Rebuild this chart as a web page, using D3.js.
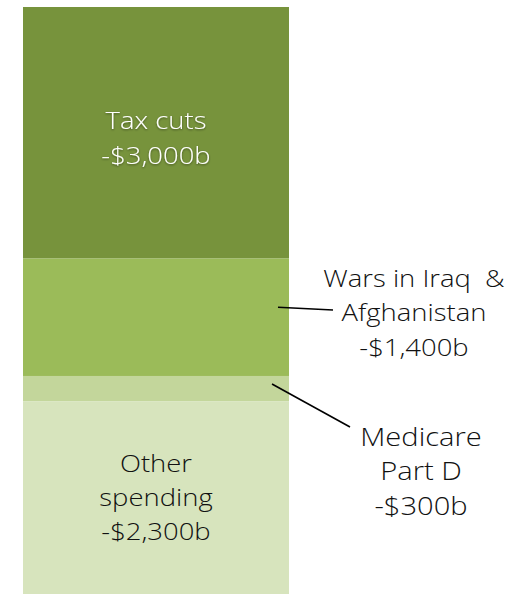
<!DOCTYPE html>
<html>
<head>
<meta charset="utf-8">
<script src="https://cdn.jsdelivr.net/npm/d3@7"></script>
<style>
  html, body { margin: 0; padding: 0; background: #fff; }
  svg { display: block; }
  text { font-family: "Open Sans", "Liberation Sans", sans-serif; font-weight: 300; white-space: pre; }
</style>
</head>
<body>
<svg id="chart" width="512" height="594"></svg>
<script>
// Budget components, stacked from top to bottom (billions of dollars)
const categories = ["Tax cuts", "Wars in Iraq & Afghanistan", "Medicare Part D", "Other spending"];
const values = [3000, 1400, 300, 2300];
const labelLines = [
  ["Tax cuts", "-$3,000b"],
  ["Wars in Iraq  &", "Afghanistan", "-$1,400b"],
  ["Medicare", "Part D", "-$300b"],
  ["Other", "spending", "-$2,300b"]
];
const colors = ["#77933c", "#9bbb59", "#c3d69b", "#d7e4bd"];

const svg = d3.select("#chart");
const barLeft = 23, barRight = 289;

const total = d3.sum(values);
const y = d3.scaleLinear().domain([0, total]).range([7, 594]);

// cumulative offsets for each segment
const starts = values.map((v, i) => d3.sum(values.slice(0, i)));
const segs = categories.map((c, i) => ({
  name: c, value: values[i], y0: starts[i], y1: starts[i] + values[i], color: colors[i], lines: labelLines[i]
}));

svg.selectAll("rect.seg")
  .data(segs)
  .join("rect")
  .attr("class", "seg")
  .attr("x", barLeft)
  .attr("width", barRight - barLeft)
  .attr("y", d => y(d.y0))
  .attr("height", d => y(d.y1) - y(d.y0))
  .attr("fill", d => d.color);

// soft shadow for white text on the dark segment
const defs = svg.append("defs");
const f = defs.append("filter").attr("id", "shadow").attr("x", "-10%").attr("y", "-10%").attr("width", "120%").attr("height", "130%");
f.append("feDropShadow").attr("dx", 0).attr("dy", 1).attr("stdDeviation", 0.8).attr("flood-color", "#000").attr("flood-opacity", 0.45);

// centred multi-line label, widened slightly for a broad display face
function multiline(g, lines, cx, firstBaseline, lineH, size, fill) {
  const t = g.append("text")
    .attr("transform", `translate(${cx},0) scale(1.12,1)`)
    .attr("text-anchor", "middle")
    .attr("font-size", size)
    .attr("fill", fill);
  lines.forEach((l, i) => {
    t.append("tspan").attr("x", 0).attr("y", firstBaseline + i * lineH).text(l);
  });
  return t;
}

const mid = (barLeft + barRight) / 2;
const g = svg.append("g");

// Tax cuts: white label inside the bar
multiline(g, segs[0].lines, mid, 129, 35, 24.5, "#fff").attr("filter", "url(#shadow)");

// Other spending: dark label inside the bar
multiline(g, segs[3].lines, mid, 472, 34, 24.5, "#111");

// Wars: label to the right with a leader line
multiline(g, segs[1].lines, 414, 287, 34.5, 24.5, "#111");
g.append("line")
  .attr("x1", 278).attr("y1", y((segs[1].y0 + segs[1].y1) / 2) - 10)
  .attr("x2", 333).attr("y2", 310)
  .attr("stroke", "#000").attr("stroke-width", 1.6);

// Medicare Part D: label below-right with a diagonal leader line
multiline(g, segs[2].lines, 421, 446, 34.5, 26, "#111");
g.append("line")
  .attr("x1", 272).attr("y1", 384)
  .attr("x2", 350).attr("y2", 427)
  .attr("stroke", "#000").attr("stroke-width", 1.6);
</script>
</body>
</html>
